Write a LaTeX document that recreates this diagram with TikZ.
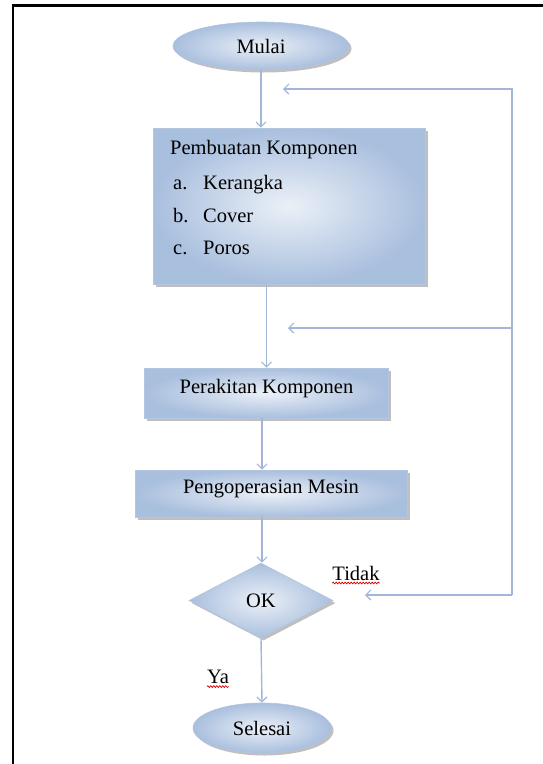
\documentclass[tikz,border=0pt]{standalone}
\usepackage{fontspec}
\setmainfont{Liberation Serif}
\usetikzlibrary{shapes.geometric,arrows.meta,shadows,decorations.pathmorphing,calc}
\definecolor{lineblue}{HTML}{A2B7D7}
\definecolor{fillin}{HTML}{EBF0F7}
\definecolor{fillout}{HTML}{A9BFDE}
\definecolor{boxedge}{HTML}{B3C5DF}
\begin{document}
\begin{tikzpicture}[x=1pt,y=-1pt,
  font=\fontsize{20.5}{24}\selectfont,
  shapebase/.style={inner color=fillin, outer color=fillout, draw=boxedge, line width=0.6pt, inner sep=0pt,
    drop shadow={shadow xshift=2.5pt, shadow yshift=-2.5pt, fill=black!50, opacity=0.5}},
  procbox/.style={shapebase, rectangle},
  termin/.style={shapebase, ellipse},
  decision/.style={shapebase, diamond},
  lbl/.style={inner sep=0pt},
  conn/.style={draw=lineblue, line width=1.4pt, -{Straight Barb[length=5pt,width=10pt,line width=1.2pt]}},
  wavy/.style={draw=red!85!black, line width=0.7pt, decorate, decoration={snake, amplitude=0.9pt, segment length=3pt}}]
\useasboundingbox (0,0) rectangle (543,764);
% page frame
\draw[line width=2.5pt] (13,764) -- (13,5.5) -- (543,5.5);

\coordinate (spine) at (262,0);

\node[termin, minimum width=176pt, minimum height=48pt] (mulai) at (261,46) {Mulai};

\node[procbox, minimum width=272pt, minimum height=156pt] (komp) at (289,206) {};
\node[lbl, anchor=base west] (t0) at (170,154) {Pembuatan Komponen};
\node[lbl, anchor=base west] (ta) at (173,189) {a.};
\node[lbl, anchor=base west] (tak) at (203,189) {Kerangka};
\node[lbl, anchor=base west] (tb) at (173,222) {b.};
\node[lbl, anchor=base west] (tbk) at (203,222) {Cover};
\node[lbl, anchor=base west] (tc) at (173,254) {c.};
\node[lbl, anchor=base west] (tck) at (203,254) {Poros};

\node[procbox, minimum width=244pt, minimum height=50pt, text height=14pt, text depth=14pt] (rakit) at (266.5,393) {Perakitan Komponen};
\node[procbox, minimum width=272pt, minimum height=47pt, text height=14pt, text depth=14pt] (peng) at (271,493.5) {Pengoperasian Mesin};

\node[decision, minimum width=144pt, minimum height=75pt, aspect=1.92] (ok) at (261,600.5) {OK};
\node[termin, minimum width=138pt, minimum height=50pt] (selesai) at (262,728) {Selesai};

\node[lbl] (tidak) at (356,573) {Tidak};
\node[lbl] (ya) at (218,677) {Ya};
\draw[wavy] ($(tidak.base west)+(0,3)$) -- ($(tidak.base east)+(0,3)$);
\draw[wavy] ($(ya.base west)+(0,3)$) -- ($(ya.base east)+(0,3)$);

% main flow
\draw[conn] (mulai.south) -- (mulai.south |- komp.north);
\draw[conn] (komp.south -| rakit.north) -- (rakit.north);
\draw[conn] (rakit.south -| spine) -- (peng.north -| spine);
\draw[conn] (peng.south -| spine) -- (ok.north -| spine);
\draw[conn] (ok.south) -- (selesai.north);

% feedback loops
\coordinate (rtop) at (512,89);
\coordinate (rmid) at (512,328);
\coordinate (rbot) at (512,595);
\coordinate (tiptop) at (283,89);
\coordinate (tipmid) at (288,328);
\coordinate (tipbot) at (365,595);
\draw[conn] (rbot) -- (tipbot);
\draw[conn] (rbot) -- (rtop) -- (tiptop);
\draw[conn] (rmid) -- (tipmid);
\end{tikzpicture}
\end{document}
